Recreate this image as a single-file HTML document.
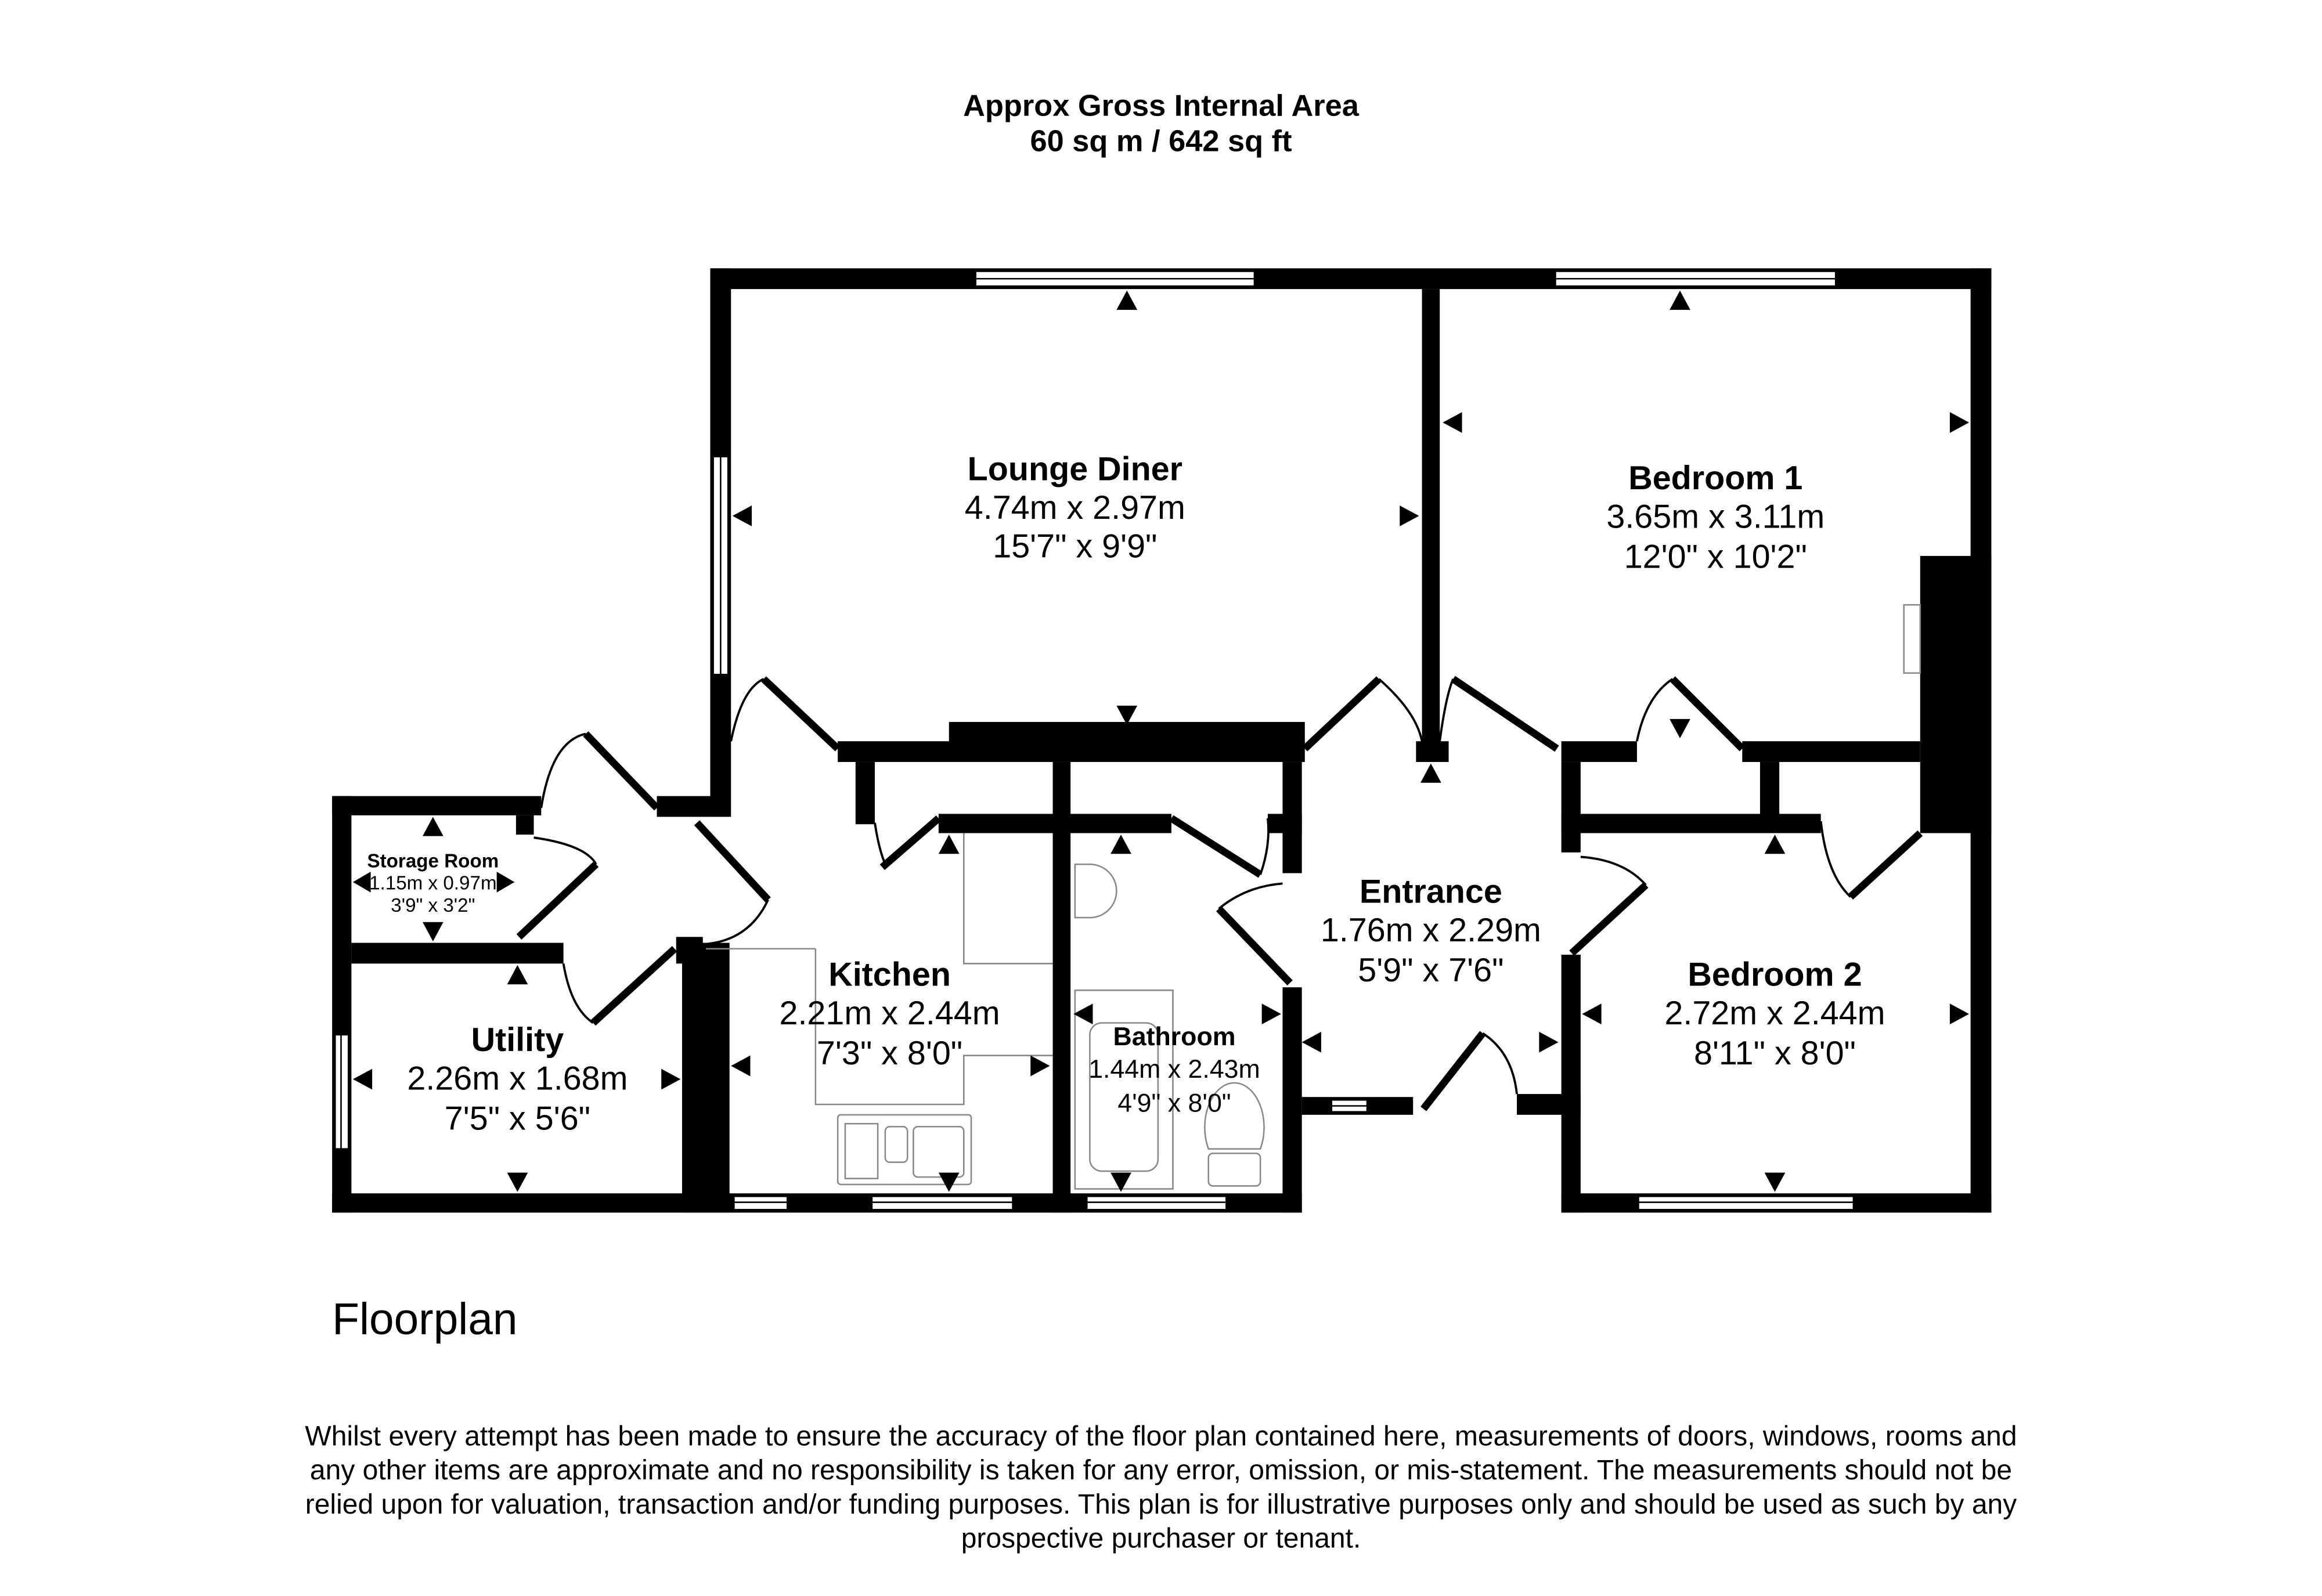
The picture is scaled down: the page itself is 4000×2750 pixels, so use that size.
<!DOCTYPE html>
<html><head><meta charset="utf-8"><style>
html,body{margin:0;padding:0;background:#fff;}
svg{display:block}
text{font-family:"Liberation Sans",Arial,sans-serif;fill:#000}
</style></head><body>
<svg width="4000" height="2750" viewBox="0 0 1566 1076.6" xmlns="http://www.w3.org/2000/svg">
<rect x="0" y="0" width="1566" height="1076.6" fill="#fff"/>
<text x="783" y="78" font-size="20.5" font-weight="bold" text-anchor="middle">Approx Gross Internal Area</text>
<text x="783" y="102" font-size="20.5" font-weight="bold" text-anchor="middle">60 sq m / 642 sq ft</text>

<g fill="#000">
<rect x="479" y="181" width="864" height="14"/>
<rect x="479" y="181" width="14" height="370"/>
<rect x="1329" y="181" width="14" height="200"/>
<rect x="1295" y="375" width="48" height="187"/>
<rect x="1329" y="375" width="14" height="443"/>
<rect x="959" y="195" width="12" height="315"/>
<rect x="565" y="500" width="315" height="14"/>
<rect x="640" y="487" width="240" height="14"/>
<rect x="955" y="500" width="22" height="14"/>
<rect x="1053" y="500" width="51" height="14"/>
<rect x="1175" y="500" width="120" height="14"/>
<rect x="1053" y="514" width="13" height="61"/>
<rect x="1053" y="549" width="175" height="13"/>
<rect x="1187" y="514" width="13" height="40"/>
<rect x="577" y="514" width="13" height="42"/>
<rect x="710" y="514" width="12" height="304"/>
<rect x="633" y="549" width="157" height="13"/>
<rect x="865" y="514" width="13" height="75"/>
<rect x="855" y="549" width="23" height="13"/>
<rect x="865" y="666" width="13" height="152"/>
<rect x="460" y="636" width="32" height="182"/>
<rect x="224" y="805" width="654" height="13"/>
<rect x="878" y="740" width="75" height="12"/>
<rect x="1023" y="738" width="43" height="14"/>
<rect x="1053" y="644" width="13" height="174"/>
<rect x="1053" y="805" width="290" height="13"/>
<rect x="224" y="537" width="141" height="13"/>
<rect x="224" y="537" width="13" height="281"/>
<rect x="237" y="636" width="143" height="14"/>
<rect x="348" y="550" width="12" height="13"/>
<rect x="443" y="537" width="36" height="14"/>
<rect x="456" y="632" width="18" height="18"/>
</g>
<g fill="#fff" stroke="#000" stroke-width="1">
<rect x="658" y="183" width="188" height="10"/>
<rect x="1049" y="183" width="189" height="10"/>
<rect x="481" y="308" width="10" height="147"/>
<rect x="226" y="698" width="9" height="77"/>
<rect x="495" y="807" width="36" height="9"/>
<rect x="588" y="807" width="95" height="9"/>
<rect x="733" y="807" width="94" height="9"/>
<rect x="898" y="742" width="24" height="8"/>
<rect x="1105" y="807" width="145" height="9"/>
</g>
<g stroke="#000" stroke-width="1">
<line x1="658" y1="188" x2="846" y2="188"/><line x1="1049" y1="188" x2="1238" y2="188"/>
<line x1="486" y1="308" x2="486" y2="455"/><line x1="230" y1="698" x2="230" y2="775"/>
<line x1="495" y1="811" x2="531" y2="811"/><line x1="588" y1="811" x2="683" y2="811"/>
<line x1="733" y1="811" x2="827" y2="811"/><line x1="898" y1="746" x2="922" y2="746"/>
<line x1="1105" y1="811" x2="1250" y2="811"/>
</g>
<g stroke="#000" stroke-width="5" fill="none">
<line x1="515" y1="458" x2="565" y2="505"/>
<line x1="880" y1="505" x2="930" y2="458"/>
<line x1="980" y1="458" x2="1050" y2="505"/>
<line x1="1128" y1="458" x2="1175" y2="505"/>
<line x1="595" y1="585" x2="633" y2="552"/>
<line x1="790" y1="552" x2="850" y2="590"/>
<line x1="822" y1="613" x2="870" y2="663"/>
<line x1="1060" y1="643" x2="1110" y2="597"/>
<line x1="1248" y1="605" x2="1295" y2="562"/>
<line x1="960" y1="748" x2="1000" y2="697"/>
<line x1="395" y1="495" x2="443" y2="545"/>
<line x1="470" y1="555" x2="518" y2="607"/>
<line x1="350" y1="632" x2="402" y2="583"/>
<line x1="400" y1="690" x2="455" y2="640"/>
</g>
<g stroke="#000" stroke-width="1.5" fill="none">
<path d="M493 500 Q500 465 515 458"/>
<path d="M930 458 Q955 480 959 500"/>
<path d="M971 500 Q975 470 980 458"/>
<path d="M1104 500 Q1110 470 1128 458"/>
<path d="M590 555 Q593 575 598 585"/>
<path d="M850 590 Q857 570 855 552"/>
<path d="M822 613 Q840 598 865 596"/>
<path d="M1066 578 Q1095 580 1110 597"/>
<path d="M1228 554 Q1232 590 1248 605"/>
<path d="M1000 697 Q1020 710 1023 738"/>
<path d="M365 545 Q372 500 395 495"/>
<path d="M360 565 Q395 570 402 583"/>
<path d="M474 637 Q505 635 518 607"/>
<path d="M380 650 Q385 680 400 690"/>
</g>
<g stroke="#888" stroke-width="1" fill="none">
<polyline points="650,562 650,650 710,650"/>
<polyline points="550,640 550,745 650,745 650,712 710,712"/>
<polyline points="476,640 550,640"/>
<rect x="565" y="752" width="90" height="47" rx="2"/>
<rect x="570" y="758" width="22" height="37"/>
<rect x="597" y="760" width="15" height="24" rx="3"/>
<rect x="616" y="760" width="34" height="34" rx="3"/>
<rect x="725" y="668" width="66" height="134"/>
<rect x="735" y="690" width="46" height="100" rx="8"/>
<path d="M725 583 h10 a18 18 0 0 1 0 36 h-10 z"/>
<path d="M815 775 a20 30 0 1 1 35 0 z"/>
<rect x="815" y="778" width="35" height="22" rx="3"/>
<rect x="1284" y="408" width="11" height="46"/>
</g>
<g fill="#000">
<polygon points="760,196 753,209 767,209"/><polygon points="1133,196 1126,209 1140,209"/>
<polygon points="760,489 753,476 767,476"/><polygon points="1133,498 1126,485 1140,485"/>
<polygon points="494,348 507,341 507,355"/><polygon points="957,348 944,341 944,355"/>
<polygon points="973,285 986,278 986,292"/><polygon points="1328,285 1315,278 1315,292"/>
<polygon points="965,515 958,528 972,528"/>
<polygon points="1197,563 1190,576 1204,576"/><polygon points="1197,804 1190,791 1204,791"/>
<polygon points="1067,684 1080,677 1080,691"/><polygon points="1328,684 1315,677 1315,691"/>
<polygon points="878,703 891,696 891,710"/><polygon points="1051,703 1038,696 1038,710"/>
<polygon points="640,563 633,576 647,576"/><polygon points="640,804 633,791 647,791"/>
<polygon points="493,719 506,712 506,726"/><polygon points="708,719 695,712 695,726"/>
<polygon points="756,563 749,576 763,576"/><polygon points="756,804 749,791 763,791"/>
<polygon points="724,684 737,677 737,691"/><polygon points="864,684 851,677 851,691"/>
<polygon points="349,651 342,664 356,664"/><polygon points="349,804 342,791 356,791"/>
<polygon points="238,728 251,721 251,735"/><polygon points="459,728 446,721 446,735"/>
<polygon points="292,551 285,564 299,564"/><polygon points="292,635 285,622 299,622"/>
<polygon points="238,595 250,588 250,602"/><polygon points="347,595 335,588 335,602"/>
</g>
<g text-anchor="middle">
<text x="725" y="324" font-size="22.5" font-weight="bold">Lounge Diner</text>
<text x="725" y="350" font-size="22.5">4.74m x 2.97m</text>
<text x="725" y="376" font-size="22.5">15'7" x 9'9"</text>
<text x="1157" y="330" font-size="22.5" font-weight="bold">Bedroom 1</text>
<text x="1157" y="356" font-size="22.5">3.65m x 3.11m</text>
<text x="1157" y="383" font-size="22.5">12'0" x 10'2"</text>
<text x="965" y="609" font-size="22.5" font-weight="bold">Entrance</text>
<text x="965" y="635" font-size="22.5">1.76m x 2.29m</text>
<text x="965" y="662" font-size="22.5">5'9" x 7'6"</text>
<text x="1197" y="665" font-size="22.5" font-weight="bold">Bedroom 2</text>
<text x="1197" y="691" font-size="22.5">2.72m x 2.44m</text>
<text x="1197" y="718" font-size="22.5">8'11" x 8'0"</text>
<text x="600" y="665" font-size="22.5" font-weight="bold">Kitchen</text>
<text x="600" y="691" font-size="22.5">2.21m x 2.44m</text>
<text x="600" y="718" font-size="22.5">7'3" x 8'0"</text>
<text x="349" y="709" font-size="22.5" font-weight="bold">Utility</text>
<text x="349" y="735" font-size="22.5">2.26m x 1.68m</text>
<text x="349" y="762" font-size="22.5">7'5" x 5'6"</text>
<text x="792" y="705" font-size="17.5" font-weight="bold">Bathroom</text>
<text x="792" y="727" font-size="17.5">1.44m x 2.43m</text>
<text x="792" y="750" font-size="17.5">4'9" x 8'0"</text>
<text x="292" y="585" font-size="13" font-weight="bold">Storage Room</text>
<text x="292" y="600" font-size="13">1.15m x 0.97m</text>
<text x="292" y="615" font-size="13">3'9" x 3'2"</text>
</g>
<text x="224" y="900" font-size="30">Floorplan</text>
<g text-anchor="middle" font-size="18.8">
<text x="783" y="975">Whilst every attempt has been made to ensure the accuracy of the floor plan contained here, measurements of doors, windows, rooms and</text>
<text x="783" y="998">any other items are approximate and no responsibility is taken for any error, omission, or mis-statement. The measurements should not be</text>
<text x="783" y="1021">relied upon for valuation, transaction and/or funding purposes. This plan is for illustrative purposes only and should be used as such by any</text>
<text x="783" y="1044">prospective purchaser or tenant.</text>
</g>
</svg>
</body></html>
